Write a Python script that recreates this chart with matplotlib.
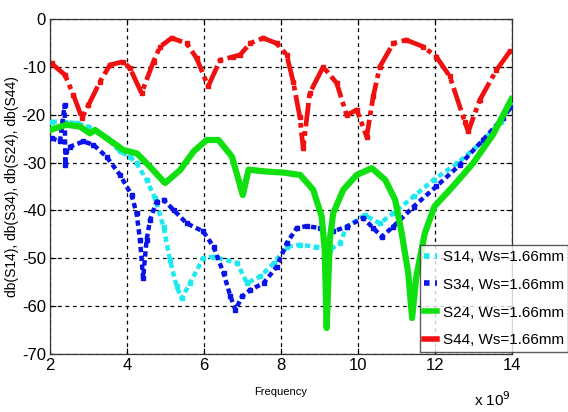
import matplotlib
matplotlib.use("Agg")
import matplotlib.pyplot as plt
from matplotlib.lines import Line2D
import numpy as np

plt.rcParams['font.family'] = ['Liberation Sans', 'DejaVu Sans']

# Frequencies in GHz (axis scaled x 10^9), values in dB
f_s44 = [2.04, 2.39, 2.61, 2.83, 3.0, 3.30, 3.56, 3.91, 4.08, 4.38, 4.69, 4.86, 5.16, 5.55, 5.81,
         6.11, 6.42, 6.76, 6.94, 7.2, 7.54, 7.89, 8.15, 8.32, 8.49, 8.58, 8.75, 9.10, 9.45, 9.71,
         9.97, 10.23, 10.40, 10.57, 10.92, 11.26, 11.70, 12.04, 12.39, 12.78, 12.87, 13.17, 13.60, 13.95]
s44 = [-9.3, -11.7, -15.9, -20.7, -18.0, -13.1, -9.6, -8.9, -10.3, -15.5, -8.9, -5.8, -4.0, -5.1, -8.2,
       -14.1, -8.6, -7.9, -7.5, -5.1, -4.0, -5.1, -7.5, -13.1, -20.4, -27.0, -15.5, -10.0, -13.4, -20.1,
       -19.0, -24.6, -16.2, -10.0, -5.1, -4.4, -5.8, -7.9, -12.0, -21.5, -23.5, -16.9, -10.7, -6.8]

f_s24 = [2.0, 2.43, 2.78, 3.04, 3.17, 3.47, 3.91, 4.26, 4.6, 4.99, 5.38, 5.73, 6.07, 6.38, 6.73,
         7.01, 7.16, 7.63, 8.06, 8.50, 8.84, 9.06, 9.14, 9.19, 9.27, 9.36, 9.62, 9.97, 10.36, 10.71,
         10.97, 11.14, 11.31, 11.41, 11.52, 11.74, 11.99, 12.47, 12.99, 13.51, 13.99]
s24 = [-23.2, -22.1, -22.5, -23.9, -23.2, -24.9, -27.4, -28.1, -30.9, -34.3, -31.6, -27.7, -25.3, -25.3, -28.8,
       -36.8, -31.5, -31.9, -32.1, -32.6, -35.7, -41.3, -48.3, -64.6, -46.2, -40.6, -35.7, -32.6, -31.2, -33.6,
       -37.8, -44.8, -53.1, -62.5, -53.8, -44.8, -39.2, -35.0, -30.2, -24.2, -16.8]

f_s14 = [2.04, 2.39, 2.69, 3.0, 3.47, 3.82, 4.08, 4.25, 4.51, 4.73, 4.95, 5.12, 5.29, 5.42, 5.64,
         5.98, 6.25, 6.86, 7.12, 7.47, 7.82, 8.16, 8.5, 8.9, 9.27, 9.53, 9.71, 10.18, 10.57, 10.92,
         11.45, 11.97, 12.58, 13.19, 13.71, 13.97]
s14 = [-21.5, -21.5, -21.8, -22.5, -24.9, -27.7, -28.8, -30.2, -33.6, -37.5, -43.4, -50.4, -55.9, -58.4, -55.2,
       -50.0, -49.7, -51.0, -55.2, -53.8, -51.0, -47.6, -47.2, -47.6, -48.3, -46.9, -43.4, -41.0, -42.7, -40.6,
       -37.1, -33.6, -30.2, -26.0, -21.5, -18.0]

f_s34 = [2.04, 2.26, 2.38, 2.40, 2.42, 2.52, 2.87, 3.13, 3.47, 3.82, 4.12, 4.25, 4.34, 4.42, 4.51,
         4.6, 4.77, 4.95, 5.21, 5.55, 5.98, 6.25, 6.51, 6.69, 6.82, 6.99, 7.21, 7.55, 7.89, 8.15,
         8.41, 8.67, 9.01, 9.36, 9.71, 10.14, 10.4, 10.62, 10.92, 11.45, 12.04, 12.65, 13.25, 13.77, 13.99]
s34 = [-24.9, -25.6, -18.0, -30.5, -27.5, -26.7, -25.6, -26.3, -28.8, -32.6, -36.8, -40.6, -46.2, -54.2, -46.2,
       -42.0, -38.2, -37.8, -39.9, -42.7, -44.4, -47.6, -53.1, -58.0, -60.8, -58.0, -56.6, -55.2, -51.8, -46.9,
       -43.7, -43.3, -43.7, -44.4, -43.4, -41.6, -43.7, -45.5, -43.4, -39.2, -35.0, -30.5, -25.3, -20.7, -18.3]

labels = ['S14, Ws=1.66mm', 'S34, Ws=1.66mm', 'S24, Ws=1.66mm', 'S44, Ws=1.66mm']
x_ticks = [2, 4, 6, 8, 10, 12, 14]
y_ticks = [0, -10, -20, -30, -40, -50, -60, -70]

fig = plt.figure(figsize=(5.68, 4.12), dpi=100)
ax = fig.add_axes([0.088, 0.141, 0.813, 0.813])

c_cyan = '#1ee8f0'
c_blue = '#0a14e6'
c_green = '#10e010'
c_red = '#f01010'

ax.plot(f_s14, s14, color=c_cyan, lw=3.2, ls=(0, (1.2, 0.8)), marker='s', ms=3.5, zorder=3)
ax.plot(f_s34, s34, color=c_blue, lw=3.2, ls=(0, (1.2, 0.8)), marker='s', ms=3.5, zorder=4)
ax.plot(f_s24, s24, color=c_green, lw=4.5, ls='-', zorder=5)
ax.plot(f_s44, s44, color=c_red, lw=3.4, ls=(0, (5, 1, 1, 1)), marker='s', ms=3.5, zorder=2)

ax.set_xlim(2, 14)
ax.set_ylim(-70, 0)
ax.set_xticks(x_ticks)
ax.set_yticks(y_ticks)
ax.set_xticklabels([str(t) for t in x_ticks])
ax.set_yticklabels([str(t) for t in y_ticks])
ax.tick_params(labelsize=12, direction='in', length=4, width=0.8, top=True, right=True, pad=3)
ax.grid(True, color='black', ls=(0, (3, 3)), lw=0.9)
for s in ax.spines.values():
    s.set_linewidth(0.9)
    s.set_color('#333333')

ax.set_xlabel('Frequency', fontsize=8, labelpad=10)
ax.set_ylabel('db(S14), db(S34), db(S24), db(S44)', fontsize=10, labelpad=2)
fig.text(0.835, 0.008, r'x 10$^{9}$', fontsize=11, ha='left', va='bottom')

handles = [
    Line2D([0], [0], color=c_cyan, lw=4, ls=(0, (1, 1))),
    Line2D([0], [0], color=c_blue, lw=4, ls=(0, (1, 1))),
    Line2D([0], [0], color=c_green, lw=4, ls='-'),
    Line2D([0], [0], color=c_red, lw=4, ls='-'),
]
leg = ax.legend(handles, labels, loc='lower left', bbox_to_anchor=(0.801, 0.006),
                fontsize=11, frameon=True, fancybox=False, borderpad=0.3,
                handlelength=0.8, handletextpad=0.4, labelspacing=0.9,
                borderaxespad=0)
leg.get_frame().set_edgecolor('#333333')
leg.get_frame().set_linewidth(1.0)
leg.set_zorder(10)

fig.savefig('out.png', dpi=100)
